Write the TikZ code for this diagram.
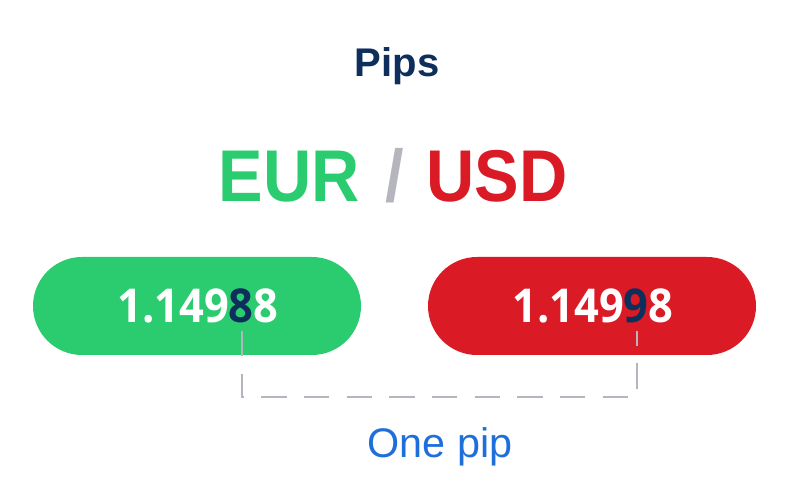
\documentclass[tikz,border=0pt]{standalone}
\usepackage{fontspec}
\setmainfont{Liberation Sans}
\newfontfamily\numfont[FakeStretch=0.93]{Open Sans}
\newfontfamily\pairfont[FakeStretch=0.91]{Liberation Sans}
\usetikzlibrary{positioning}
\definecolor{pipgreen}{HTML}{2ACC6F}
\definecolor{pipred}{HTML}{DA1A25}
\definecolor{pipnavy}{HTML}{0E2F5C}
\definecolor{pipgray}{HTML}{B5B5BD}
\definecolor{pipblue}{HTML}{1F6FDB}
\tikzset{
  pill/.style={rounded corners=36.75},
  quote/.style={anchor=base, font=\numfont\bfseries\fontsize{35}{35}\selectfont, text=white},
  pair/.style={anchor=base, font=\pairfont\bfseries\fontsize{55}{55}\selectfont},
  pipline/.style={draw=pipgray, line width=1.6, dash pattern=on 19 off 13}
}
\begin{document}
\begin{tikzpicture}[x=0.75pt,y=-0.75pt]
  \useasboundingbox (0,0) rectangle (797,481);
  \node[anchor=base, font=\bfseries\fontsize{30}{30}\selectfont, text=pipnavy] (pips) at (397,77) {Pips};

  \node[pair, text=pipgreen] (eur) at (289,202) {EUR};
  \node[pair, text=pipgray] (slash) at (395,202) {/};
  \node[pair, text=pipred] (usd) at (497,202) {USD};

  \fill[pill, pipgreen] (33,257) rectangle (361,355);
  \fill[pill, pipred] (428,257) rectangle (756,355);
  \node[quote] (bid) at (198,323) {1.149\textcolor{pipnavy}{8}8};
  \node[quote] (ask) at (593,323) {1.149\textcolor{pipnavy}{9}8};

  \coordinate (bidpip) at (242,331);
  \coordinate (askpip) at (637,331);
  \coordinate (bidlow) at (242,397);
  \coordinate (asklow) at (637,397);
  \draw[pipline] (bidpip) -- (bidlow) -- (asklow) -- (askpip);

  \node[anchor=base, font=\fontsize{31}{31}\selectfont, text=pipblue] (onepip) at (440,457) {One pip};
\end{tikzpicture}
\end{document}
